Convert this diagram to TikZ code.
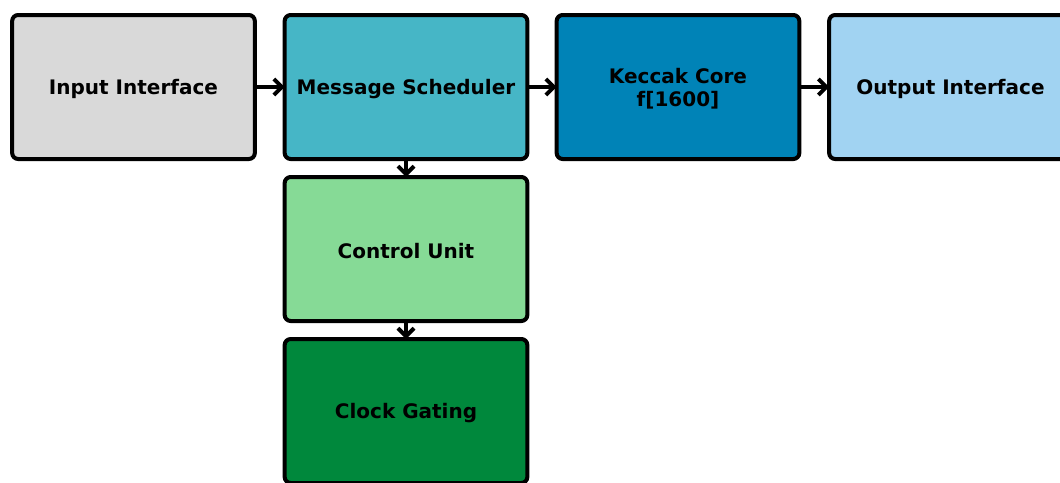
\documentclass[tikz,border=0pt]{standalone}
\usepackage{fontspec}
\setmainfont{DejaVu Sans}
\usetikzlibrary{arrows.meta}
\definecolor{cIn}{HTML}{D9D9D9}
\definecolor{cMs}{HTML}{46B6C6}
\definecolor{cKc}{HTML}{0083B7}
\definecolor{cOut}{HTML}{A1D3F2}
\definecolor{cCu}{HTML}{86DA96}
\definecolor{cCg}{HTML}{00883C}
\newcommand{\dn}[1]{\raisebox{-1.5pt}[\height][\depth]{#1}}
\tikzset{
  blk/.style={draw=black, line width=3pt, rounded corners=4.5pt, minimum width=182pt, minimum height=108pt, inner sep=0pt, outer sep=0pt, align=center, font=\bfseries\fontsize{15}{17.5}\selectfont},
  conn/.style={line width=3pt, -{Straight Barb[length=6pt,width=12pt]}}
}
\begin{document}
\begin{tikzpicture}[x=0.75pt,y=-0.75pt]
\useasboundingbox (0,0) rectangle (1060,482);
\clip (0,0) rectangle (1060,482);
\node[blk, fill=cIn] (in) at (133.5,87) {\dn{Input Interface}};
\node[blk, fill=cMs] (ms) at (406,87) {\dn{Message Scheduler}};
\node[blk, fill=cKc] (kc) at (678,87) {\dn{Keccak Core}\\\dn{f[1600]}};
\node[blk, fill=cOut] (out) at (950.5,87) {\dn{Output Interface}};
\node[blk, fill=cCu] (cu) at (406,249) {\dn{Control Unit}};
\node[blk, fill=cCg] (cg) at (406,411) {\dn{Clock Gating}};
\draw[conn] (in.east) -- (ms.west);
\draw[conn] (ms.east) -- (kc.west);
\draw[conn] (kc.east) -- (out.west);
\draw[conn] (ms.south) -- (cu.north);
\draw[conn] (cu.south) -- (cg.north);
\end{tikzpicture}
\end{document}
